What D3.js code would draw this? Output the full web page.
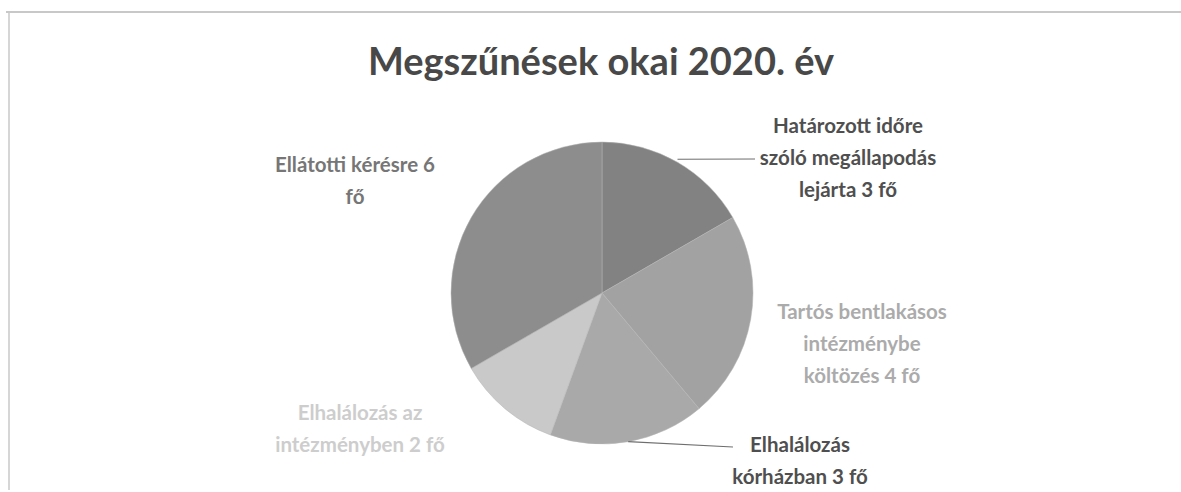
<!DOCTYPE html>
<html><head><meta charset="utf-8">
<script src="https://cdn.jsdelivr.net/npm/d3@7"></script>
<style>body{margin:0;background:#fff}svg{display:block}</style>
</head><body>
<script>
const title = "Megszűnések okai 2020. év";
const categories = ["Határozott időre szóló megállapodás lejárta", "Tartós bentlakásos intézménybe költözés", "Elhalálozás kórházban", "Elhalálozás az intézményben", "Ellátotti kérésre"];
const values = [3, 4, 3, 2, 6];
const labelLines = [
  ["Határozott időre", "szóló megállapodás", "lejárta 3 fő"],
  ["Tartós bentlakásos", "intézménybe", "költözés 4 fő"],
  ["Elhalálozás", "kórházban 3 fő"],
  ["Elhalálozás az", "intézményben 2 fő"],
  ["Ellátotti kérésre 6", "fő"]
];
const sliceColors = ["#828282", "#a2a2a2", "#a9a9a9", "#c9c9c9", "#8d8d8d"];
const labelColors = ["#4f4f4f", "#ababab", "#4f4f4f", "#cdcdcd", "#767676"];

const W = 1181, H = 492;
const svg = d3.select("body").append("svg").attr("width", W).attr("height", H);

// frame
svg.append("line").attr("x1", 6).attr("x2", W).attr("y1", 12).attr("y2", 12).attr("stroke", "#c8c8c8").attr("stroke-width", 2);
svg.append("line").attr("x1", 9).attr("x2", 9).attr("y1", 12).attr("y2", 490).attr("stroke", "#c8c8c8").attr("stroke-width", 1.5);

svg.append("text").attr("x", 601).attr("y", 75).attr("text-anchor", "middle")
  .attr("font-family", "Lato, sans-serif").attr("font-weight", "bold").attr("font-size", 38)
  .attr("fill", "#484848").text(title);

const cx = 602, cy = 293, R = 151;
const pie = d3.pie().sort(null).value(d => d)(values);
const arc = d3.arc().innerRadius(0).outerRadius(R);
const g = svg.append("g").attr("transform", `translate(${cx},${cy})`);
g.selectAll("path").data(pie).join("path").attr("d", arc)
  .attr("fill", (d, i) => sliceColors[i]).attr("stroke", "#b5b5b5").attr("stroke-width", 0.5);

// label positions (centers of text blocks)
const labelPos = [[848, 126], [862, 312], [800, 445], [360, 413], [355, 165]];
const lineH = 32;
labelLines.forEach((lines, i) => {
  const t = svg.append("text").attr("text-anchor", "middle")
    .attr("font-family", "Lato, sans-serif").attr("font-weight", "bold").attr("font-size", 20.5)
    .attr("fill", labelColors[i]);
  lines.forEach((l, j) => {
    t.append("tspan").attr("x", labelPos[i][0]).attr("y", labelPos[i][1] + j * lineH + 7).text(l);
  });
});

// leader lines from slice edge midpoints
function edgePoint(d) {
  const a = (d.startAngle + d.endAngle) / 2;
  return [cx + R * Math.sin(a), cy - R * Math.cos(a)];
}
const p0 = edgePoint(pie[0]);
svg.append("polyline").attr("points", `${p0[0]},${p0[1] - 3} ${755},${159}`)
  .attr("fill", "none").attr("stroke", "#6e6e6e").attr("stroke-width", 1.2);
const p2 = edgePoint(pie[2]);
svg.append("polyline").attr("points", `${p2[0]},${p2[1]} ${733},${447}`)
  .attr("fill", "none").attr("stroke", "#6e6e6e").attr("stroke-width", 1.2);
</script>
</body></html>
